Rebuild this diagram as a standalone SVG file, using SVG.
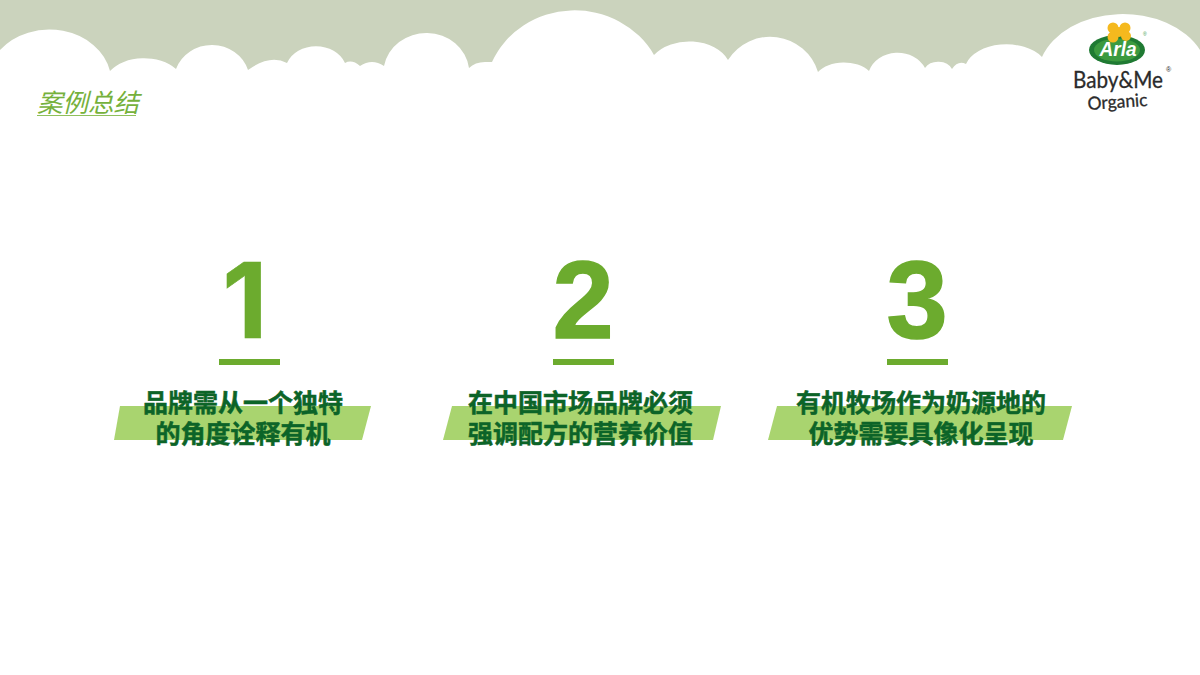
<svg xmlns="http://www.w3.org/2000/svg" width="1200" height="675" viewBox="0 0 1200 675">
<style>
.num{font-family:"Liberation Sans",Arial,sans-serif;font-weight:700;font-size:110px;fill:#6cab2e;stroke:#6cab2e;stroke-width:1.5px;text-anchor:middle}
.one{font-family:"Inter",sans-serif;font-size:105px;stroke-width:.6px}
.bar{fill:#6cab2e}
.band{fill:#a9d46f}
.cap{font-family:"Noto Sans CJK SC",sans-serif;font-weight:700;font-size:25px;fill:#0c6428;stroke:#0c6428;stroke-width:.5px;text-anchor:middle}
.logo{font-family:"Lato",sans-serif;fill:#2b2b2b;stroke:#2b2b2b;stroke-width:.3px}
</style>
<rect width="1200" height="675" fill="#ffffff"/>
<path id="clouds" fill="#cbd3bd" d="M0 0H1200V50A85 62 0 0 0 1042 57A42 27 0 0 0 966 64Q958 60 952 69A15 12 0 0 0 925 68A30 26 0 0 0 869 71A30 19 0 0 0 818 72A50 50 0 0 0 728 60A42 30 0 0 0 654 55A90 85 0 0 0 492 62L485 62Q475 62 469 68A43 40 0 0 0 384 66Q372 58 360 66Q352 59 345 63A31 26 0 0 0 287 63Q270 54 248 70A38 36 0 0 0 176 69A40 27 0 0 0 110 71A62 52 0 0 0 0 50Z"/>
<g id="title">
<text x="37" y="112" font-family="'Noto Sans CJK SC',sans-serif" font-size="25.5" font-weight="400" font-style="italic" fill="#76b13c">案例总结</text>
<line x1="37" y1="115.5" x2="136" y2="115.5" stroke="#8fc05c" stroke-width="1"/>
</g>
<g id="logo">
<ellipse cx="1117" cy="50" rx="28" ry="15" fill="#1f7a33"/>
<ellipse cx="1117" cy="50" rx="23" ry="11.5" fill="#3c9a3f"/>
<g fill="#f5b91e"><circle cx="1113" cy="28" r="5.5"/><circle cx="1125" cy="28" r="5.5"/><circle cx="1126" cy="36" r="5"/><circle cx="1113" cy="37" r="5.5"/><circle cx="1119" cy="32" r="5"/></g>
<text x="1118" y="56" font-family="'Liberation Sans',sans-serif" font-size="20" font-weight="700" font-style="italic" fill="#ffffff" text-anchor="middle" textLength="37" lengthAdjust="spacingAndGlyphs">Arla</text>
<text class="logo" x="1073" y="88" font-size="23" textLength="90" lengthAdjust="spacingAndGlyphs">Baby&amp;Me</text>
<text class="logo" x="1088" y="110" font-size="18" textLength="60" lengthAdjust="spacingAndGlyphs" transform="rotate(-4 1088 110)">Organic</text>
<text x="1166" y="72" font-family="'Liberation Sans',sans-serif" font-size="7" fill="#2b2b2b">®</text>
<text x="1143" y="36" font-family="'Liberation Sans',sans-serif" font-size="5" fill="#3c9a3f">®</text>
</g>
<g id="item-1">
<polygon class="band" points="120,406 371,406 362,440 114,440"/>
<text class="num one" x="245" y="338">1</text>
<rect class="bar" x="219" y="359" width="61" height="6"/>
<text class="cap" x="243" y="412">品牌需从一个独特</text>
<text class="cap" x="243" y="443">的角度诠释有机</text>
</g>
<g id="item-2">
<polygon class="band" points="452,406 721,406 713,440 443,440"/>
<text class="num" x="583" y="338">2</text>
<rect class="bar" x="553" y="359" width="61" height="6"/>
<text class="cap" x="580.5" y="412">在中国市场品牌必须</text>
<text class="cap" x="580.5" y="443">强调配方的营养价值</text>
</g>
<g id="item-3">
<polygon class="band" points="777,406 1072,406 1063,440 768,440"/>
<text class="num" x="917" y="338">3</text>
<rect class="bar" x="887" y="359" width="61" height="6"/>
<text class="cap" x="921" y="412">有机牧场作为奶源地的</text>
<text class="cap" x="921" y="443">优势需要具像化呈现</text>
</g>
</svg>
